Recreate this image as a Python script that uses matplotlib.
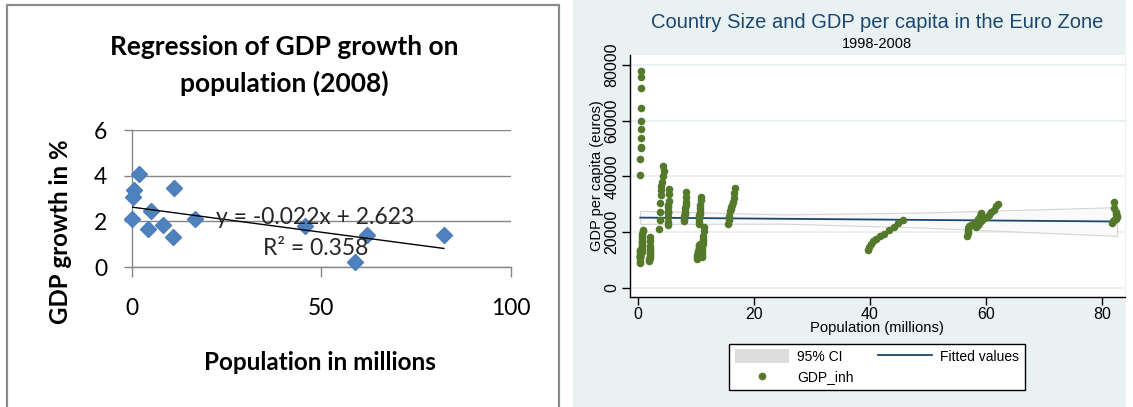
import matplotlib
matplotlib.use("Agg")
import matplotlib.pyplot as plt
from matplotlib.patches import Rectangle, Patch
from matplotlib.lines import Line2D

W, H = 1133, 407

# --- left chart: GDP growth vs population, euro area 2008 ---
pop_2008 = [1.9, 0.66, 0.3, 0.2, 11.1, 5.2, 4.3, 8.3, 10.9, 16.7, 45.6, 58.9, 62.0, 82.3]
growth_2008 = [4.06, 3.38, 3.06, 2.11, 3.48, 2.47, 1.67, 1.85, 1.31, 2.10, 1.80, 0.22, 1.38, 1.41]
trend_slope = -0.022
trend_icept = 2.623
r_squared = 0.358

# --- right chart: GDP per capita by country, 1998-2008 ---
countries = {
    "Luxembourg": ([0.43, 0.43, 0.44, 0.44, 0.45, 0.45, 0.46, 0.47, 0.47, 0.48, 0.49],
                   [40500, 46100, 50100, 50700, 53900, 57000, 60000, 64700, 71600, 75600, 77900]),
    "Malta": ([0.38, 0.38, 0.38, 0.39, 0.39, 0.39, 0.40, 0.40, 0.40, 0.41, 0.41],
              [9100, 9800, 10600, 11100, 11400, 11200, 11400, 11800, 12400, 13100, 13800]),
    "Cyprus": ([0.66, 0.67, 0.68, 0.69, 0.70, 0.72, 0.73, 0.75, 0.77, 0.78, 0.79],
               [12900, 13700, 14900, 15900, 16400, 16900, 17800, 18600, 19500, 20300, 20900]),
    "Slovenia": ([1.98, 1.98, 1.99, 1.99, 1.99, 2.00, 2.00, 2.00, 2.01, 2.02, 2.03],
                 [9600, 10300, 10800, 11400, 12200, 12800, 13500, 14200, 15100, 17000, 18300]),
    "Ireland": ([3.70, 3.74, 3.79, 3.85, 3.92, 3.98, 4.04, 4.13, 4.23, 4.34, 4.42],
                [21200, 24300, 27400, 30400, 33200, 35200, 36500, 38100, 40000, 43800, 41800]),
    "Finland": ([5.15, 5.17, 5.18, 5.19, 5.20, 5.21, 5.23, 5.25, 5.27, 5.29, 5.31],
                [22700, 23800, 25500, 26800, 27400, 27600, 28900, 29700, 31300, 33600, 35600]),
    "Austria": ([7.97, 7.98, 8.01, 8.04, 8.08, 8.12, 8.17, 8.23, 8.27, 8.30, 8.34],
                [23900, 24800, 25900, 26400, 27000, 27600, 28600, 29600, 30900, 32600, 34300]),
    "Belgium": ([10.45, 10.48, 10.52, 10.56, 10.60, 10.64, 10.68, 10.72, 10.77, 10.83, 10.90],
                [22800, 23500, 24700, 25300, 26100, 26700, 27800, 28800, 29900, 31400, 32600]),
    "Portugal": ([10.13, 10.17, 10.20, 10.26, 10.33, 10.41, 10.47, 10.53, 10.57, 10.60, 10.62],
                 [10500, 11100, 11900, 12400, 13000, 13200, 13700, 14400, 14900, 15500, 15800]),
    "Greece": ([10.95, 10.99, 11.03, 11.07, 11.11, 11.15, 11.19, 11.23, 11.27, 11.31, 11.35],
               [11100, 11800, 12500, 13400, 14300, 15700, 16800, 17500, 18800, 20400, 21800]),
    "Netherlands": ([15.55, 15.65, 15.75, 15.88, 16.00, 16.12, 16.24, 16.36, 16.48, 16.60, 16.72],
                    [23000, 24300, 26000, 27600, 28500, 29100, 29800, 30800, 32300, 34200, 36000]),
    "Spain": ([39.72, 39.85, 40.10, 40.50, 41.00, 41.70, 42.50, 43.30, 44.10, 44.90, 45.70],
              [13600, 14600, 15700, 16700, 17600, 18500, 19500, 20700, 21900, 23200, 24500]),
    "Italy": ([56.80, 56.85, 56.90, 56.95, 57.10, 57.50, 58.00, 58.40, 58.70, 58.95, 59.15],
              [18800, 19600, 20600, 21400, 22100, 22500, 23200, 23900, 24800, 26000, 26800]),
    "France": ([58.30, 58.60, 58.90, 59.30, 59.70, 60.10, 60.50, 60.90, 61.30, 61.70, 62.10],
               [21900, 22600, 23700, 24400, 25100, 25500, 26200, 27100, 28100, 29300, 30300]),
    "Germany": ([81.70, 81.90, 82.15, 82.35, 82.50, 82.60, 82.60, 82.50, 82.35, 82.15, 82.00],
                [23400, 23900, 24400, 24900, 25200, 25500, 26000, 26400, 27300, 28700, 30800]),
}

# linear fit and its 95% band
fit_pop = [0.38, 82.6]
fit_gdp = [25250, 23850]
ci_pop = [0.38, 25.0, 50.0, 82.6]
ci_hi = [27700, 26400, 27100, 29000]
ci_lo = [23000, 23100, 21600, 18700]

green = "#55792B"
navy = "#1A476F"
bg = "#EAF1F3"


def fx(x):
    return x / W


def fy(y):
    return 1 - y / H


fig = plt.figure(figsize=(W / 100, H / 100), dpi=100)
fig.patch.set_facecolor("white")

# panel backgrounds
fig.add_artist(Rectangle((fx(7), fy(420)), (559 - 7) / W, (420 - 5) / H,
                         transform=fig.transFigure, facecolor="white",
                         edgecolor="#8C8C8C", lw=1.6, zorder=-10))
fig.add_artist(Rectangle((fx(573), 0), (1126 - 573) / W, 1,
                         transform=fig.transFigure, facecolor=bg,
                         edgecolor="none", zorder=-10))

# ---------------- left chart ----------------
lfont = "Lato"
lsize = 16.5
ax1 = fig.add_axes([fx(131.7), fy(267), (511 - 131.7) / W, (267 - 130) / H])
ax1.set_facecolor("none")
ax1.set_xlim(0, 100)
ax1.set_ylim(0, 6)
ax1.set_xticks([0, 50, 100])
ax1.set_yticks([0, 2, 4, 6])
ax1.grid(axis="y", color="#868686", lw=1)
ax1.set_axisbelow(True)
for s in ["top", "right"]:
    ax1.spines[s].set_visible(False)
for s in ["left", "bottom"]:
    ax1.spines[s].set_color("#868686")
    ax1.spines[s].set_linewidth(1)
ax1.tick_params(axis="y", length=5.5, width=1, color="#868686", pad=12,
                labelsize=lsize)
ax1.tick_params(axis="x", length=7, width=1, color="#868686", pad=15,
                labelsize=lsize)
for lab in ax1.get_xticklabels() + ax1.get_yticklabels():
    lab.set_fontfamily(lfont)

ax1.plot(pop_2008, growth_2008, "D", ms=8.6, color="#4F81BD",
         mec="#4A7EBB", zorder=3, clip_on=False)
tx = [min(pop_2008), max(pop_2008)]
ax1.plot(tx, [trend_slope * x + trend_icept for x in tx], color="black",
         lw=1, zorder=4)
ax1.text(48.4, 2.15, f"y = {trend_slope}x + {trend_icept}", ha="center",
         va="center", fontsize=lsize, family=lfont, color="#262626", zorder=5)
ax1.text(48.4, 0.83, f"R² = {r_squared}", ha="center", va="center",
         fontsize=lsize, family=lfont, color="#262626", zorder=5)

fig.text(fx(284), fy(47), "Regression of GDP growth on", ha="center",
         va="center", fontsize=19, family=lfont, fontweight="bold")
fig.text(fx(284), fy(83), "population (2008)", ha="center", va="center",
         fontsize=19, family=lfont, fontweight="bold")
fig.text(fx(60), fy(232), "GDP growth in %", ha="center", va="center",
         rotation=90, fontsize=17.3, family=lfont, fontweight="bold")
fig.text(fx(320), fy(362), "Population in millions", ha="center",
         va="center", fontsize=17.5, family=lfont, fontweight="bold")

# ---------------- right chart ----------------
rfont = "Liberation Sans"
ax2 = fig.add_axes([fx(630), fy(297), (1125 - 630) / W, (297 - 55) / H])
ax2.set_facecolor("white")
ax2.set_xlim(-1.38, 83.97)
ax2.set_ylim(-3229, 83587)
ax2.set_xticks([0, 20, 40, 60, 80])
ax2.set_yticks([0, 20000, 40000, 60000, 80000])
ax2.grid(axis="y", color=bg, lw=1.5)
ax2.set_axisbelow(True)
for s in ["top", "right"]:
    ax2.spines[s].set_visible(False)
for s in ["left", "bottom"]:
    ax2.spines[s].set_linewidth(1)
ax2.tick_params(axis="y", length=6, width=1, pad=1.5, labelsize=11.5,
                labelrotation=90)
ax2.tick_params(axis="x", length=6, width=1, pad=1.5, labelsize=11.5)
for lab in ax2.get_yticklabels():
    lab.set_va("center")
for lab in ax2.get_xticklabels() + ax2.get_yticklabels():
    lab.set_fontfamily(rfont)

ax2.fill_between(ci_pop, ci_lo, ci_hi, facecolor="#FAFAFA",
                 edgecolor="#D4D4D4", lw=0.8, zorder=1)
ax2.plot(fit_pop, fit_gdp, color=navy, lw=1.3, zorder=2)
for name, (pops, gdps) in countries.items():
    ax2.scatter(pops, gdps, s=30, color=green, linewidths=0, zorder=3)

fig.text(fx(877), fy(22), "Country Size and GDP per capita in the Euro Zone",
         ha="center", va="center", fontsize=14.5, family=rfont, color=navy)
fig.text(fx(877), fy(44), "1998-2008", ha="center", va="center",
         fontsize=10.5, family=rfont)
fig.text(fx(597), fy(176), "GDP per capita (euros)", ha="center",
         va="center", rotation=90, fontsize=10.5, family=rfont)
fig.text(fx(877), fy(328), "Population (millions)", ha="center",
         va="center", fontsize=10.6, family=rfont)

handles = [
    Patch(facecolor="#DDDDDD", edgecolor="none", label="95% CI"),
    Line2D([], [], ls="none", marker="o", ms=4.5, color=green, label="GDP_inh"),
    Line2D([], [], color=navy, lw=1.3, label="Fitted values"),
]
leg = fig.legend(handles=handles, ncol=2, loc="center",
                 bbox_to_anchor=(fx(877), fy(367)),
                 prop={"family": rfont, "size": 10}, frameon=True,
                 fancybox=False, edgecolor="black", framealpha=1,
                 handlelength=3.95, handleheight=1.1, handletextpad=0.58,
                 columnspacing=1.7, labelspacing=0.45, borderpad=0.4,
                 numpoints=1)
leg.get_frame().set_linewidth(1)

fig.savefig("out.png", dpi=100)
